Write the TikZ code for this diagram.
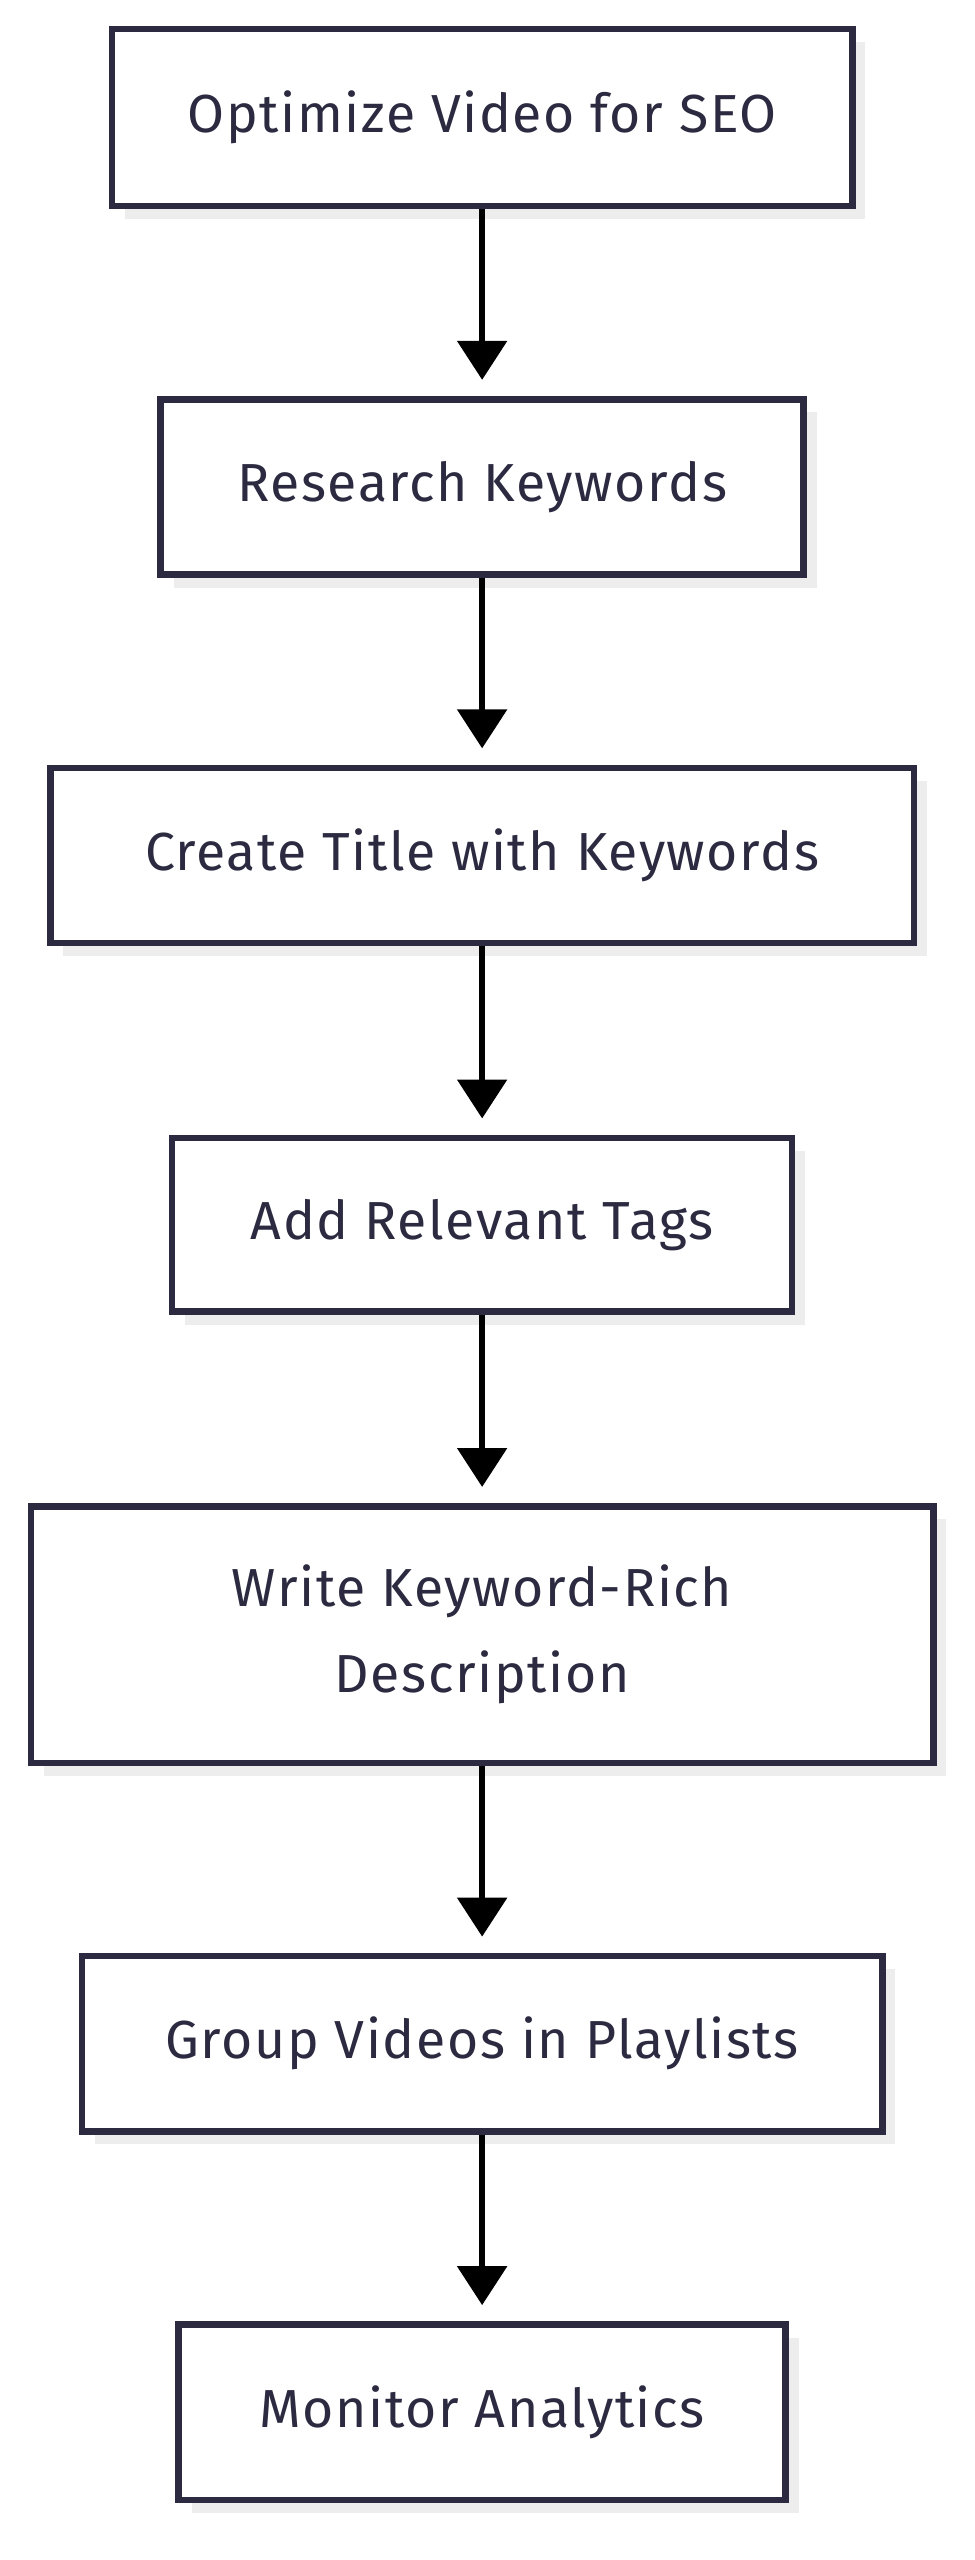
\documentclass[tikz,border=0pt]{standalone}
\usepackage{fontspec}
\setmainfont{Fira Sans}[LetterSpace=3]
\usetikzlibrary{arrows.meta,shadows}
\definecolor{ink}{HTML}{2B2A40}
\tikzset{
	stepbox/.style={draw=ink,line width=4pt,fill=white,text=ink,align=center,font=\fontsize{33}{53}\selectfont,
		drop shadow={shadow xshift=8pt,shadow yshift=-8pt,fill=black!7,opacity=1}},
	flow/.style={line width=4pt,-{Triangle[width=30pt,length=24pt]},shorten >=10pt}
}
\begin{document}
\begin{tikzpicture}[x=1pt,y=-1pt]
	\useasboundingbox[fill=white] (0,0) rectangle (600,1577);
	\node[stepbox,minimum width=456pt,minimum height=109pt] (A) at (297,72.5) {Optimize Video for SEO};
	\node[stepbox,minimum width=396pt,minimum height=108pt] (B) at (297,300) {Research Keywords};
	\node[stepbox,minimum width=532pt,minimum height=108pt] (C) at (297,527) {Create Title with Keywords};
	\node[stepbox,minimum width=382pt,minimum height=107pt] (D) at (297,754.5) {Add Relevant Tags};
	\node[stepbox,minimum width=556pt,minimum height=158pt] (E) at (297,1007) {Write Keyword-Rich\\Description};
	\node[stepbox,minimum width=493pt,minimum height=108pt] (F) at (297,1259) {Group Videos in Playlists};
	\node[stepbox,minimum width=374pt,minimum height=108pt] (G) at (297,1486) {Monitor Analytics};
	
	\draw[flow] (A) -- (B);
	\draw[flow] (B) -- (C);
	\draw[flow] (C) -- (D);
	\draw[flow] (D) -- (E);
	\draw[flow] (E) -- (F);
	\draw[flow] (F) -- (G);
\end{tikzpicture}
\end{document}
